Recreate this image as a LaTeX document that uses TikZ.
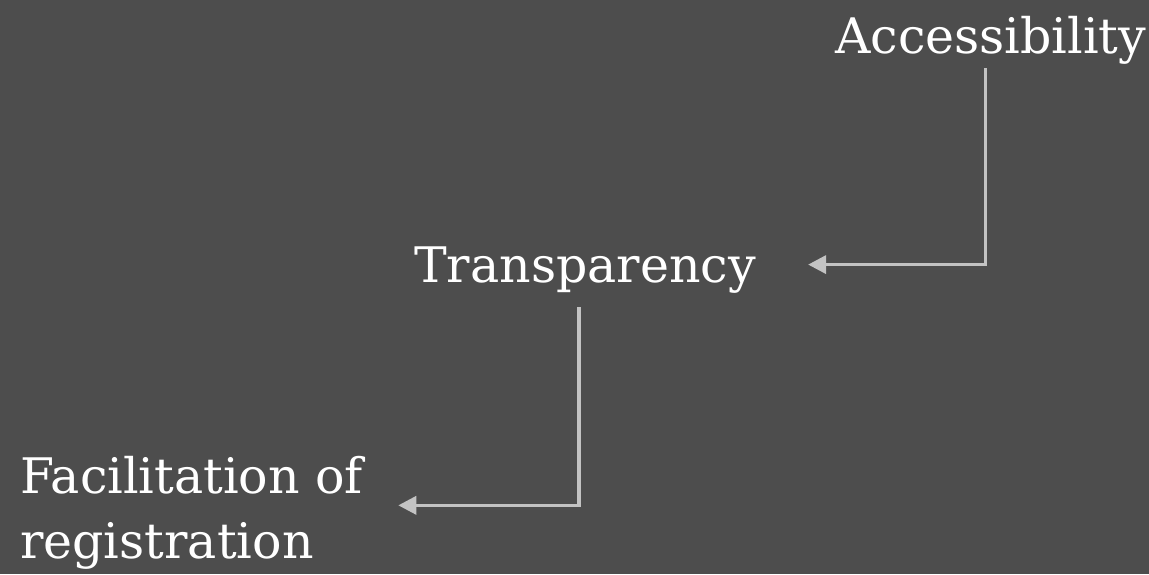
\documentclass[tikz,border=0pt]{standalone}
\usepackage{fontspec}
\setmainfont{DejaVu Serif}
\usepackage{tikz}
\usetikzlibrary{arrows.meta}

\definecolor{bgdark}{HTML}{4D4D4D}
\definecolor{linkgray}{HTML}{C3C3C3}

\tikzset{
    label text/.style={draw=none, text=white, inner sep=2pt, font=\fontsize{49}{65}\selectfont},
    link/.style={line width=3.5pt, color=linkgray, -{Triangle[length=18pt,width=18pt]}}
}

\begin{document}
\begin{tikzpicture}[x=1pt,y=-1pt]

\fill[bgdark] (0,0) rectangle (1149,574); % Background
\useasboundingbox (0,0) rectangle (1149,574);

\node [label text, anchor=base west] (access) at (833,53) {Accessibility};
\node [label text, anchor=base west] (transp) at (412,282) {Transparency};
\node [label text, anchor=base west, align=left] (facil) at (18,558) {Facilitation of\\registration};

\draw[link, shorten <=2pt, shorten >=50pt] ([xshift=-5pt]access.south) |- ([yshift=5pt]transp.east); % Top connector
\draw[link, shorten <=12pt, shorten >=33pt] ([xshift=-6pt]transp.south) |- ([yshift=7pt]facil.east); % Bottom connector

\end{tikzpicture}
\end{document}
